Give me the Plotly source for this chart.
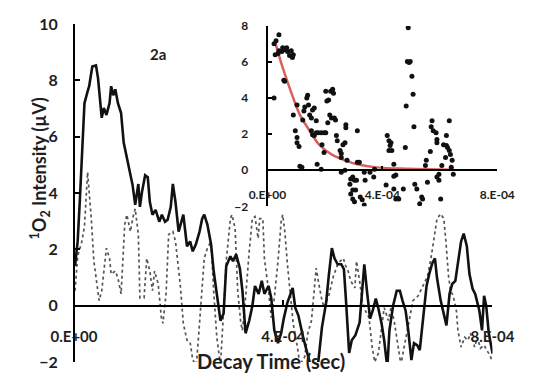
import plotly.graph_objects as go

# ---- data (time in units of 1e-4 s) ----
t_solid = [0.02, 0.07, 0.11, 0.16, 0.20, 0.26, 0.29, 0.35, 0.42, 0.46, 0.53, 0.57, 0.62, 0.68, 0.71, 0.75, 0.79, 0.84, 0.90, 0.95,
           0.99, 1.03, 1.08, 1.12, 1.17, 1.23, 1.26, 1.30, 1.36, 1.41, 1.45, 1.50, 1.56, 1.63, 1.68, 1.74, 1.79, 1.85, 1.89, 1.94,
           2.00, 2.05, 2.09, 2.16, 2.22, 2.27, 2.33, 2.40, 2.45, 2.49, 2.55, 2.62, 2.67, 2.73, 2.80, 2.86, 2.91, 2.99, 3.04, 3.10,
           3.17, 3.22, 3.28, 3.35, 3.41, 3.46, 3.53, 3.59, 3.64, 3.72, 3.77, 3.83, 3.90, 3.96, 4.01, 4.08, 4.18, 4.23, 4.29, 4.38,
           4.47, 4.52, 4.60, 4.67, 4.74, 4.82, 4.87, 4.93, 4.98, 5.04, 5.11, 5.16, 5.20, 5.26, 5.31, 5.38, 5.46, 5.51, 5.55, 5.60,
           5.66, 5.71, 5.77, 5.82, 5.88, 5.93, 5.97, 5.99, 6.03, 6.10, 6.17, 6.23, 6.28, 6.34, 6.39, 6.45, 6.50, 6.56, 6.61, 6.67,
           6.74, 6.79, 6.85, 6.90, 6.94, 7.01, 7.07, 7.12, 7.18, 7.23, 7.29, 7.34, 7.40, 7.45, 7.51, 7.56, 7.62, 7.67, 7.75, 7.80,
           7.84, 7.88, 7.93, 7.99, 8.00]
v_solid = [1.40, 2.28, 3.68, 5.44, 7.19, 7.61, 7.79, 8.49, 8.53, 8.07, 6.67, 7.02, 6.77, 7.19, 7.79, 7.47, 7.68, 7.19, 6.84, 5.79,
           5.44, 4.98, 4.56, 4.28, 3.58, 4.32, 3.51, 4.04, 4.63, 4.56, 3.68, 3.23, 3.40, 2.98, 3.23, 2.98, 3.05, 3.51, 4.32, 3.68,
           2.63, 2.98, 3.23, 2.11, 2.28, 1.93, 2.18, 2.63, 3.09, 3.23, 2.88, 2.18, 1.23, 0.42, -0.53, -0.28, 1.40, 1.75, 1.58, 1.82,
           1.33, 0.53, -0.98, -0.53, 0.00, 0.70, 0.42, 0.88, 0.42, 0.70, 0.28, -0.88, -1.33, -0.98, -0.46, 0.11, 0.63, -0.07, -0.35, -1.12,
           -1.75, -2.11, -2.35, -2.00, -0.77, 0.11, 1.05, 2.04, 1.68, 1.47, 1.47, 1.30, 0.18, -1.68, -1.23, -1.05, -0.60, 0.70, 1.47, 0.53,
           -0.46, -0.18, 0.25, -0.11, -0.63, -1.23, -1.93, -2.21, -0.88, 0.00, 0.53, 0.53, 0.18, -0.18, -0.88, -1.93, -1.33, -1.40, -1.58, -0.46,
           0.70, 1.12, 1.51, 1.68, 0.98, 0.18, -0.28, -0.70, 0.42, 0.77, 0.88, 1.51, 2.28, 2.56, 2.11, 1.12, 0.60, 0.42, -0.18, -0.88,
           0.35, 0.00, -0.98, -1.58, -1.70]

t_dot = [0.02, 0.07, 0.15, 0.20, 0.26, 0.29, 0.33, 0.38, 0.44, 0.48, 0.53, 0.59, 0.62, 0.68, 0.71, 0.79, 0.84, 0.90, 0.97, 1.01,
         1.08, 1.12, 1.17, 1.23, 1.26, 1.34, 1.39, 1.45, 1.50, 1.54, 1.61, 1.67, 1.70, 1.76, 1.81, 1.89, 1.94, 2.03, 2.09, 2.16,
         2.22, 2.27, 2.34, 2.38, 2.44, 2.49, 2.55, 2.62, 2.67, 2.73, 2.80, 2.82, 2.86, 2.91, 2.99, 3.02, 3.08, 3.13, 3.19, 3.22,
         3.28, 3.35, 3.41, 3.46, 3.52, 3.55, 3.61, 3.64, 3.72, 3.77, 3.83, 3.90, 3.96, 3.99, 4.03, 4.08, 4.14, 4.19, 4.27, 4.32,
         4.41, 4.47, 4.54, 4.60, 4.63, 4.67, 4.73, 4.78, 4.87, 4.96, 5.05, 5.15, 5.18, 5.24, 5.29, 5.37, 5.40, 5.46, 5.51, 5.57,
         5.64, 5.70, 5.75, 5.82, 5.88, 5.93, 6.01, 6.06, 6.12, 6.19, 6.25, 6.30, 6.37, 6.43, 6.48, 6.58, 6.67, 6.76, 6.83, 6.89,
         6.94, 7.01, 7.07, 7.11, 7.16, 7.20, 7.25, 7.31, 7.34, 7.40, 7.47, 7.53, 7.58, 7.66, 7.71, 7.77, 7.84, 7.89, 7.95, 8.00]
v_dot = [0.53, 1.75, 2.28, 2.81, 4.74, 4.04, 3.09, 1.58, 0.63, 0.18, 0.53, 1.40, 2.04, 1.68, 1.12, 1.23, 0.98, 0.42, 2.88, 3.23,
         2.63, 3.09, 3.44, 2.53, 0.28, 0.28, 1.68, 1.23, 0.53, 1.23, 0.77, -0.42, -0.63, 0.42, 2.53, 2.63, 2.28, 0.77, -0.63, -1.23,
         -1.30, -1.93, -2.10, -1.12, 0.53, 1.68, 2.04, 2.28, 0.53, -1.12, -2.10, -1.58, -0.18, 1.58, 3.09, 3.23, 2.74, 0.53, -0.63, -0.88,
         0.28, 1.93, 3.09, 3.16, 2.39, 3.09, 3.09, 1.68, 0.53, -0.42, 0.28, 1.58, 2.98, 3.23, 2.63, 1.47, 0.28, -0.63, -1.47, -2.10,
         -1.82, -0.98, -0.53, 0.88, 1.33, 0.88, 0.28, -0.07, 0.35, 1.05, 1.51, 1.68, 1.47, 1.23, 0.88, 0.63, 1.58, 0.88, 0.18, -0.18,
         -0.42, -1.47, -2.00, -1.68, -0.77, -0.07, -0.53, -0.07, -0.53, -1.47, -2.10, -1.58, -0.88, -0.35, 0.18, 0.35, 0.70, 1.05, 1.75, 2.46,
         3.09, 3.26, 3.09, 2.28, 1.05, 0.53, 0.35, -0.18, -0.88, -1.47, -1.12, -1.23, -0.98, -1.47, -1.12, -1.51, -1.40, -1.58, -1.75, -2.00]

# inset scatter
t_sc = [0.40, 0.30, 0.23, 0.27, 0.37, 0.40, 0.50, 0.53, 0.60, 0.67, 0.70, 0.77, 0.83, 0.87, 0.90, 0.57, 0.60, 0.23, 0.90, 1.03,
        1.23, 1.27, 1.30, 1.37, 1.40, 1.43, 1.47, 1.53, 1.57, 1.63, 1.70, 0.97, 1.03, 1.03, 1.10, 1.13, 1.20, 1.53, 1.57, 1.63,
        1.70, 1.77, 1.87, 1.97, 2.03, 1.90, 1.97, 1.73, 1.87, 2.03, 2.07, 2.13, 2.20, 2.27, 2.30, 2.17, 2.23, 2.33, 2.37, 2.10,
        2.40, 2.43, 2.53, 2.57, 2.63, 2.70, 2.73, 2.73, 2.77, 2.57, 3.13, 3.13, 3.20, 2.90, 2.97, 3.03, 3.10, 2.87, 2.97, 3.07,
        2.90, 2.97, 3.03, 3.23, 3.30, 3.37, 3.37, 3.40, 3.57, 3.73, 3.70, 2.57, 2.70,
        4.90, 4.87, 4.93, 4.97, 5.03, 5.07, 4.83, 5.10, 4.17, 4.23, 4.30, 4.27, 4.23, 4.33, 4.40, 4.80, 5.73, 5.70, 5.77, 5.87,
        5.90, 5.90, 6.23, 6.33, 6.13, 6.23, 6.27, 6.33, 6.37, 5.67, 5.53, 5.50, 6.07, 6.20, 6.43, 6.40, 6.47, 5.97, 4.47, 4.40,
        4.13, 4.40, 4.47, 4.57, 4.73, 5.13, 5.20, 5.57, 5.97, 5.90, 5.37, 5.40, 5.30, 6.03]
v_sc = [7.51, 7.18, 7.01, 6.41, 6.47, 6.63, 6.58, 6.79, 6.68, 6.79, 6.58, 6.36, 6.63, 6.25, 6.41, 4.99, 4.93, 4.00, 3.07, 3.62,
        2.79, 3.29, 3.51, 4.00, 4.16, 3.62, 3.07, 2.90, 3.34, 3.45, 2.74, 2.19, 1.81, 1.53, 1.32, 0.22, 0.16, 2.19, 1.97, 1.92,
        2.08, 2.08, 2.08, 2.08, 2.08, 1.42, 0.99, 0.33, 0.05, 4.38, 3.84, 3.89, 4.38, 4.49, 4.27, 3.07, 2.90, 2.90, 2.79, 2.63,
        1.92, 1.64, 1.10, 0.93, 1.42, 1.53, 2.36, 2.52, 0.55, 0.71, 2.19, 0.44, 0.44, -0.49, -0.38, -0.55, -0.55, -0.77, -1.10, -1.10,
        -1.32, -1.59, -1.75, -1.48, -1.64, -1.92, -0.11, -0.55, -0.11, 0.05, -0.38, -0.11, 0.00,
        7.90, 6.03, 5.97, 6.03, 5.21, 4.22, 3.56, 2.41, 1.92, 1.64, 1.53, 1.37, 1.10, 1.10, 0.33, 1.26, 2.74, 2.41, 2.19, 2.08,
        1.70, 1.53, 1.92, 2.74, 1.42, 1.37, 1.26, 1.10, 0.88, 1.04, 0.55, 0.27, 0.27, 0.71, 0.55, 0.16, -0.22, -0.22, -0.27, -0.33,
        -0.82, -1.04, -1.59, -1.59, -1.04, -0.77, -1.04, -0.66, -0.55, -0.38, -1.48, -1.59, -1.86, -1.59]

# inset fitted decay curve
t_fit = [0.27, 0.47, 0.70, 0.90, 1.13, 1.47, 1.80, 2.23, 2.70, 3.13, 3.80, 4.90, 6.50]
v_fit = [7.10, 6.00, 4.90, 4.00, 3.07, 2.19, 1.42, 0.88, 0.55, 0.33, 0.16, 0.08, 0.03]

main_x_ticks = [0, 4e-4, 8e-4]
main_x_text = ["0.E+00", "4.E-04", "8.E-04"]
main_y_ticks = [-2, 0, 2, 4, 6, 8, 10]
inset_y_ticks = [-2, 0, 2, 4, 6, 8]

SCALE = 1e-4
FONT = "Lato"
TXT = "#1e1e1e"

fig = go.Figure()
fig.add_trace(go.Scatter(x=[t * SCALE for t in t_dot], y=v_dot, mode="lines",
                         line=dict(color="#555555", width=1.7, dash="dot"), xaxis="x", yaxis="y",
                         showlegend=False, hoverinfo="skip"))
fig.add_trace(go.Scatter(x=[t * SCALE for t in t_solid], y=v_solid, mode="lines",
                         line=dict(color="#111111", width=2.6), xaxis="x", yaxis="y",
                         showlegend=False, hoverinfo="skip"))
fig.add_trace(go.Scatter(x=[t * SCALE for t in t_fit], y=v_fit, mode="lines",
                         line=dict(color="#d9605c", width=2.5, shape="spline"), xaxis="x2", yaxis="y2",
                         showlegend=False, hoverinfo="skip"))
fig.add_trace(go.Scatter(x=[t * SCALE for t in t_sc], y=v_sc, mode="markers",
                         marker=dict(color="#111111", size=5), xaxis="x2", yaxis="y2",
                         showlegend=False, hoverinfo="skip"))

W, H = 537, 388
ml, mr, mt, mb = 74, 15, 18, 26
pw, ph = W - ml - mr, H - mt - mb

def px(x):
    return (x - ml) / pw

def py(y):
    return (H - mb - y) / ph

fig.update_layout(
    width=W, height=H,
    margin=dict(l=ml, r=mr, t=mt, b=mb),
    paper_bgcolor="white", plot_bgcolor="rgba(0,0,0,0)",
    font=dict(family=FONT, color=TXT),
    xaxis=dict(domain=[0, px(511)], range=[0, 8e-4], anchor="free", position=py(305),
               showline=True, linecolor="black", linewidth=2, ticks="inside", ticklen=5, tickwidth=2,
               tickcolor="black", tickvals=main_x_ticks, ticktext=main_x_text,
               tickfont=dict(size=15, family=FONT, color=TXT, weight="bold"), ticklabelstandoff=17,
               showgrid=False, zeroline=False),
    yaxis=dict(domain=[0, py(20)], range=[-2, 10], anchor="free", position=0,
               showline=True, linecolor="black", linewidth=2, ticks="inside", ticklen=5, tickwidth=2,
               tickcolor="black", tickvals=main_y_ticks,
               tickfont=dict(size=16, family=FONT, color=TXT, weight="bold"), ticklabelstandoff=12,
               showgrid=False, zeroline=False),
    xaxis2=dict(domain=[px(276), px(516)], range=[0, 8e-4], anchor="free", position=py(168),
                showline=True, linecolor="black", linewidth=1.5, ticks="inside", ticklen=4, tickwidth=1.5,
                tickcolor="black", tickvals=main_x_ticks, ticktext=main_x_text,
                tickfont=dict(size=12, family=FONT, color=TXT, weight="bold"), ticklabelstandoff=14,
                showgrid=False, zeroline=False),
    yaxis2=dict(domain=[py(204.5), py(22)], range=[-2, 8], anchor="free", position=px(276),
                showline=True, linecolor="black", linewidth=1.5, ticks="inside", ticklen=4, tickwidth=1.5,
                tickcolor="black", tickvals=inset_y_ticks,
                tickfont=dict(size=12, family=FONT, color=TXT, weight="bold"), ticklabelstandoff=16,
                showgrid=False, zeroline=False),
    annotations=[
        dict(text="<b>2a</b>", xref="paper", yref="paper", x=px(151), y=py(39), showarrow=False,
             font=dict(size=15, family=FONT, color=TXT)),
        dict(text="<b><sup>1</sup>O<sub>2</sub> Intensity (µV)</b>", xref="paper", yref="paper",
             x=px(23), y=py(166), textangle=-90, showarrow=False,
             font=dict(size=18, family=FONT, color=TXT)),
        dict(text="<b>Decay Time (sec)</b>", xref="paper", yref="paper", x=px(280), y=py(375),
             showarrow=False, font=dict(size=20, family=FONT, color=TXT)),
    ],
)

fig.write_html("out.html")
